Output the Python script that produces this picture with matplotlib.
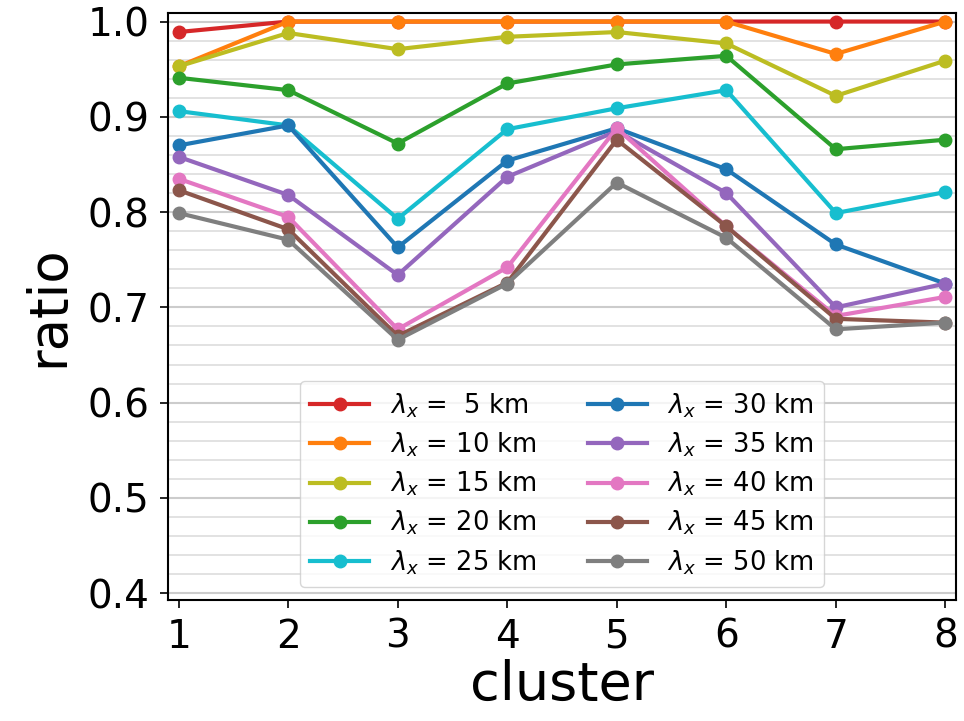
import numpy as np
import matplotlib
matplotlib.use("Agg")
import matplotlib.pyplot as plt
from matplotlib.ticker import MultipleLocator

# data
clusters = [1, 2, 3, 4, 5, 6, 7, 8]
wavelengths = [5, 10, 15, 20, 25, 30, 35, 40, 45, 50]
r05 = [0.989, 1.000, 1.000, 1.000, 1.000, 1.000, 1.000, 1.000]
r10 = [0.953, 1.000, 1.000, 1.000, 1.000, 1.000, 0.966, 1.000]
r15 = [0.953, 0.988, 0.971, 0.984, 0.989, 0.977, 0.922, 0.959]
r20 = [0.941, 0.928, 0.872, 0.935, 0.955, 0.964, 0.866, 0.876]
r25 = [0.906, 0.891, 0.793, 0.887, 0.909, 0.928, 0.799, 0.821]
r30 = [0.870, 0.891, 0.763, 0.854, 0.888, 0.845, 0.766, 0.725]
r35 = [0.858, 0.818, 0.734, 0.837, 0.885, 0.820, 0.700, 0.725]
r40 = [0.835, 0.795, 0.677, 0.742, 0.888, 0.785, 0.691, 0.711]
r45 = [0.823, 0.782, 0.670, 0.726, 0.876, 0.785, 0.688, 0.684]
r50 = [0.799, 0.771, 0.666, 0.725, 0.831, 0.773, 0.677, 0.684]
ratios = [r05, r10, r15, r20, r25, r30, r35, r40, r45, r50]
colors = ["tab:red", "tab:orange", "tab:olive", "tab:green", "tab:cyan",
          "tab:blue", "tab:purple", "tab:pink", "tab:brown", "tab:gray"]

fig = plt.figure(figsize=(9.64, 7.21), dpi=100)
ax = fig.add_axes([0.174, 0.168, 0.818, 0.814])

for lam, r, c in zip(wavelengths, ratios, colors):
    ax.plot(clusters, r, "-o", color=c, lw=3, ms=9,
            label=r"$\lambda_x$ = %2d km" % lam)

ax.set_xlim(0.9, 8.1)
ax.set_ylim(0.393, 1.009)
ax.set_xticks(clusters)
ax.yaxis.set_major_locator(MultipleLocator(0.1))
ax.yaxis.set_minor_locator(MultipleLocator(0.02))
ax.tick_params(axis="y", which="minor", left=False)
ax.grid(axis="y", which="major", color="#cccccc", lw=1.5)
ax.grid(axis="y", which="minor", color="#dddddd", lw=1.2)
ax.set_axisbelow(True)
ax.tick_params(labelsize=28, length=6, width=1.2, pad=7)
for s in ax.spines.values():
    s.set_linewidth(1.5)

ax.set_xlabel("cluster", fontsize=39, labelpad=2)
ax.set_ylabel("ratio", fontsize=38, labelpad=10)
ax.legend(loc="lower center", ncol=2, fontsize=18.5, columnspacing=2.0,
          handlelength=2.3, labelspacing=0.42)

fig.savefig("out.png", dpi=100)
